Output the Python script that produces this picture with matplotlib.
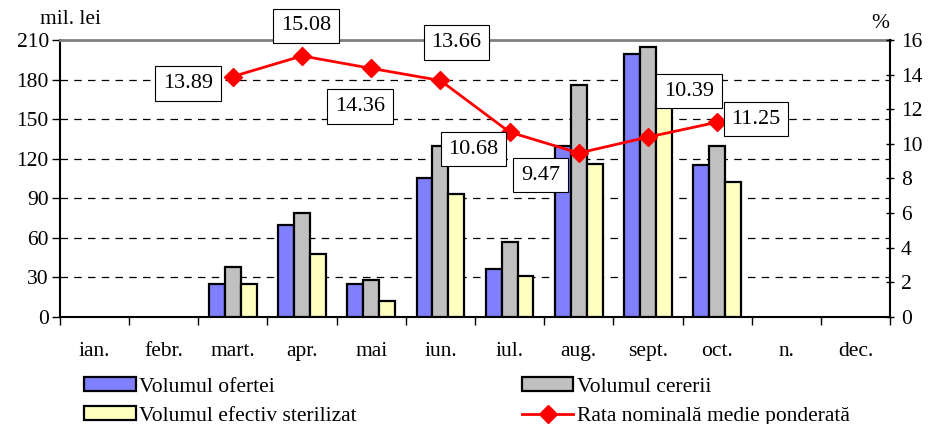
import numpy as np
import matplotlib.pyplot as plt
from matplotlib.patches import Patch
from matplotlib.lines import Line2D

plt.rcParams['font.family'] = ['Liberation Serif', 'DejaVu Serif']
plt.rcParams['font.size'] = 15.5

luni = ["ian.", "febr.", "mart.", "apr.", "mai", "iun.", "iul.", "aug.", "sept.", "oct.", "n.", "dec."]
oferta = [0, 0, 25, 70, 25, 105, 36, 130, 199, 115, 0, 0]
cerere = [0, 0, 38, 79, 28, 130, 57, 176, 205, 130, 0, 0]
sterilizat = [0, 0, 25, 48, 12, 93, 31, 116, 162, 102, 0, 0]
rata_luni = [2, 3, 4, 5, 6, 7, 8, 9]
rata = [13.89, 15.08, 14.36, 13.66, 10.68, 9.47, 10.39, 11.25]
# offset etichete (pixeli) fata de punct
offs = [(-45, -7), (4, 30), (-11, -38), (16, 38), (-36, -17), (-38, -22), (41, 46), (39, 3)]

fig = plt.figure(figsize=(9.3, 4.24), dpi=100)
ax = fig.add_axes([0.0645, 0.2524, 0.8925, 0.6533])
ax2 = ax.twinx()

x = np.arange(len(luni)) + 0.5
w = 0.23
kw = dict(edgecolor="black", linewidth=1.6, zorder=3)
for vals, dx, col in [(oferta, -w, "#8080FF"), (cerere, 0, "#C0C0C0"), (sterilizat, w, "#FFFFC0")]:
    v = np.array(vals, dtype=float)
    m = v > 0
    ax.bar(x[m] + dx, v[m], width=w, color=col, **kw)

ax.set_xlim(0, 12)
ax.set_ylim(0, 210)
ax.set_yticks(range(0, 211, 30))
ax.set_xticks(range(0, 13))
ax.set_xticklabels([])
ax.set_xticks(x, minor=True)
ax.set_xticklabels(luni, minor=True)
ax.tick_params(axis="x", which="major", length=6, width=1, direction="out")
ax.tick_params(axis="x", which="minor", length=0, pad=18)
ax.tick_params(axis="y", length=6, width=1, direction="out", pad=2)
ax.yaxis.grid(True, linestyle=(0, (6, 5)), color="black", linewidth=0.9, zorder=0)
ax.set_axisbelow(True)
for s in ["left", "bottom"]:
    ax.spines[s].set_linewidth(1.5)
ax.spines["top"].set_color("#808080")
ax.spines["top"].set_linewidth(2)
ax.spines["right"].set_visible(False)

ax2.plot(np.array(rata_luni) + 0.5, rata, color="red", linewidth=2, marker="D", markersize=9,
         zorder=5)
ax2.set_ylim(0, 16)
ax2.set_yticks(range(0, 17, 2))
ax2.tick_params(axis="y", length=6, width=1, direction="inout", pad=5)
ax2.spines["right"].set_linewidth(1.5)
ax2.spines["top"].set_visible(False)
ax2.spines["left"].set_visible(False)
ax2.spines["bottom"].set_visible(False)

for xi, yi, (dx, dy) in zip(rata_luni, rata, offs):
    ax2.annotate(f"{yi:.2f}", (xi + 0.5, yi), xytext=(dx, dy), textcoords="offset pixels",
                 ha="center", va="center", fontsize=16, zorder=6,
                 bbox=dict(boxstyle="square,pad=0.35", facecolor="white", edgecolor="black", linewidth=0.8))

fig.text(0.043, 0.955, "mil. lei", fontsize=15.5, va="center", ha="left")
fig.text(0.937, 0.945, "%", fontsize=15.5, va="center", ha="left")

h_of = Patch(facecolor="#8080FF", edgecolor="black", linewidth=1.6, label="Volumul ofertei")
h_st = Patch(facecolor="#FFFFC0", edgecolor="black", linewidth=1.6, label="Volumul efectiv sterilizat")
h_ce = Patch(facecolor="#C0C0C0", edgecolor="black", linewidth=1.6, label="Volumul cererii")
h_ra = Line2D([], [], color="red", linewidth=2, marker="D", markersize=9,
              label="Rata nominală medie ponderată")
fig.legend(handles=[h_of, h_st, h_ce, h_ra], ncol=2, loc="lower left",
           bbox_to_anchor=(0.07, -0.05), frameon=False, fontsize=15.5,
           handlelength=2.4, handleheight=0.6, handletextpad=0.15,
           columnspacing=7.65, labelspacing=0.45)

fig.savefig("out.png", dpi=100)
